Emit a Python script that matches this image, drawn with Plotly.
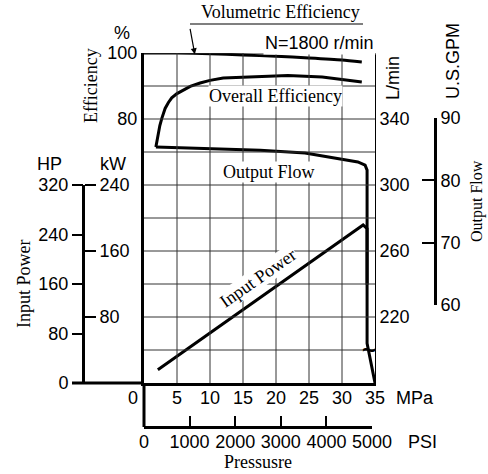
import plotly.graph_objects as go

W, H = 488, 474


def px(x):
    return x / W


def py(y):
    return 1 - y / H


SANS = "Liberation Sans, Arial, sans-serif"
SERIF = "Liberation Serif, Times New Roman, serif"

# ---------------- data ----------------
mpa_ticks = [0, 5, 10, 15, 20, 25, 30, 35]
psi_ticks = [0, 1000, 2000, 3000, 4000, 5000]
eff_grid = [0, 10, 20, 30, 40, 50, 60, 70, 80, 90, 100]
eff_labels = [80, 100]
lpm_ticks = [220, 260, 300, 340]
gpm_ticks = [60, 70, 80, 90]
kw_ticks = [80, 160, 240]
hp_ticks = [0, 80, 160, 240, 320]

vol_pressure = [0, 5, 10, 15, 20, 25, 30, 33]
vol_eff = [100, 100, 99.8, 99.4, 99.0, 98.5, 97.9, 97.3]

overall_pressure = [1.8, 2.1, 2.4, 2.7, 3.2, 3.7, 4.2, 5.0, 5.9, 7.0, 8.5, 10, 12, 16, 21.8, 27, 33]
overall_eff = [71.5, 75.0, 78.0, 80.2, 83.2, 85.0, 86.4, 87.7, 88.8, 89.9, 90.9, 91.7, 92.4, 92.8, 93.2, 92.7, 91.2]

flow_pressure = [1.8, 10, 17.6, 24.4, 32.4, 33.5, 33.8, 33.8, 35.0]
flow_lpm = [323, 322, 321, 319.4, 314, 312, 309, 204, 180]

power_pressure = [2.1, 10, 20, 30, 33.2, 33.8, 33.8]
power_kw = [16, 60.4, 116.8, 173.3, 191.5, 187, 119]

fig = go.Figure()
line = dict(color="black", width=3)
fig.add_trace(go.Scatter(x=vol_pressure, y=vol_eff, mode="lines", line=dict(color="black", width=3, shape="spline", smoothing=0.6), xaxis="x", yaxis="y", hoverinfo="skip"))
fig.add_trace(go.Scatter(x=overall_pressure, y=overall_eff, mode="lines", line=line, xaxis="x", yaxis="y", hoverinfo="skip"))
fig.add_trace(go.Scatter(x=flow_pressure, y=flow_lpm, mode="lines", line=line, xaxis="x", yaxis="y2", hoverinfo="skip"))
fig.add_trace(go.Scatter(x=power_pressure, y=power_kw, mode="lines", line=line, xaxis="x", yaxis="y3", hoverinfo="skip"))
# axis carriers
fig.add_trace(go.Scatter(x=[None], y=[None], xaxis="x", yaxis="y4", hoverinfo="skip"))
fig.add_trace(go.Scatter(x=[None], y=[None], xaxis="x", yaxis="y5", hoverinfo="skip"))
fig.add_trace(go.Scatter(x=[None], y=[None], xaxis="x2", yaxis="y", hoverinfo="skip"))

tickfont = dict(family=SANS, size=18, color="black")
GRID = "#333333"

common = dict(automargin=False, zeroline=False, showgrid=False, fixedrange=True)

fig.update_layout(
    template="none",
    width=W, height=H,
    margin=dict(l=0, r=0, t=0, b=0, pad=0),
    paper_bgcolor="white",
    plot_bgcolor="rgba(0,0,0,0)",
    showlegend=False,
    font=dict(family=SANS, size=18, color="black"),
    xaxis=dict(domain=[px(144), px(375)], range=[0, 35], tickvals=mpa_ticks,
               ticktext=[""] + [str(v) for v in mpa_ticks[1:]],
               showline=True, linecolor="black", linewidth=3, ticks="",
               ticklabelstandoff=-4,
               anchor="y", tickfont=tickfont, **common),
    yaxis=dict(domain=[py(383), py(53)], range=[0, 100], tickvals=eff_grid,
               ticktext=[str(v) if v in eff_labels else "" for v in eff_grid],
               showline=True, linecolor="black", linewidth=3, ticks="",
               anchor="x", tickfont=tickfont, **common),
    yaxis2=dict(overlaying="y", side="right", range=[180, 380], tickvals=lpm_ticks,
                showline=True, linecolor="black", linewidth=1,
                ticks="", anchor="x", tickfont=tickfont, **common),
    yaxis3=dict(domain=[py(383), py(185)], range=[0, 240], anchor="free",
                position=px(83), side="right", tickvals=kw_ticks, ticks="outside",
                ticklen=11, tickwidth=1.5, tickcolor="black", showline=True,
                linecolor="black", linewidth=3, tickfont=tickfont, **common),
    yaxis4=dict(overlaying="y3", anchor="free", position=px(83), side="left",
                range=[0, 320], tickvals=hp_ticks, ticks="outside", ticklen=11,
                tickwidth=1.5, tickcolor="black", showline=False,
                tickfont=tickfont, **common),
    yaxis5=dict(domain=[py(305), py(118)], range=[60, 90], anchor="free",
                position=px(435), side="right", tickvals=gpm_ticks, ticks="inside",
                ticklen=12, tickwidth=1.5, tickcolor="black", showline=True,
                linecolor="black", linewidth=3, tickfont=tickfont, **common),
    xaxis2=dict(domain=[px(144), px(372)], range=[0, 5000], anchor="free",
                position=py(427), side="bottom", tickvals=psi_ticks, ticks="inside",
                ticklen=10, tickwidth=1.5, tickcolor="black", showline=True,
                linecolor="black", linewidth=3, ticklabelstandoff=-3,
                tickfont=tickfont, **common),
)

# grid (from the tick arrays, in data coordinates)
for v in mpa_ticks[1:-1]:
    fig.add_shape(type="line", xref="x", yref="y", x0=v, x1=v, y0=0, y1=100,
                  line=dict(color=GRID, width=1), layer="above")
for v in eff_grid[1:]:
    fig.add_shape(type="line", xref="x", yref="y", x0=0, x1=35, y0=v, y1=v,
                  line=dict(color=GRID, width=1), layer="above")


def ann(text, x, y, font=SANS, size=18, angle=0, **kw):
    fig.add_annotation(text=text, x=px(x), y=py(y), xref="paper", yref="paper",
                       showarrow=False, textangle=angle, xanchor="center",
                       yanchor="middle", font=dict(family=font, size=size, color="black"), **kw)


ann("%", 122, 33)
ann("Efficiency", 91, 86, font=SERIF, angle=-90)
ann("HP", 49, 164)
ann("kW", 113, 164)
ann("Input Power", 24, 284, font=SERIF, angle=-90)
ann("L/min", 393, 78, angle=-90)
ann("U.S.GPM", 453, 61, angle=-90)
ann("Output Flow", 477, 201, font=SERIF, size=16, angle=-90)
ann("MPa", 415, 398)
ann("0", 133, 398)
ann("PSI", 422, 442)
ann("Pressusre", 258, 462, font=SERIF)
ann("Volumetric Efficiency", 280, 12, font=SERIF)
ann("N=1800 r/min", 319, 43, bgcolor="white")

# in-plot labels
fig.add_annotation(text="Overall Efficiency", x=19.85, y=87, xref="x", yref="y", showarrow=False,
                   bgcolor="white", borderpad=0, font=dict(family=SERIF, size=18, color="black"))
fig.add_annotation(text="Output Flow", x=18.9, y=308, xref="x", yref="y2", showarrow=False,
                   bgcolor="white", borderpad=0, font=dict(family=SERIF, size=18, color="black"))
fig.add_annotation(text="Input Power", x=17.3, y=127, xref="x", yref="y3", showarrow=False,
                   bgcolor="white", borderpad=0, textangle=-35,
                   font=dict(family=SERIF, size=18, color="black"))
fig.add_annotation(text="<b>~</b>", x=34.1, y=200.5, xref="x", yref="y2", showarrow=False,
                   borderpad=0, font=dict(family=SANS, size=24, color="black"))
# leader arrow for volumetric efficiency
fig.add_annotation(text="", x=7.7, y=99.6, xref="x", yref="y", showarrow=True,
                   ax=-5, ay=-27, arrowhead=2, arrowsize=1, arrowwidth=1.2, arrowcolor="black")

# decorative connector lines
fig.add_shape(type="line", xref="paper", yref="paper", x0=px(190), x1=px(363), y0=py(24), y1=py(24),
              line=dict(color="black", width=1.2))
fig.add_shape(type="line", xref="paper", yref="paper", x0=px(144), x1=px(144), y0=py(383), y1=py(427),
              line=dict(color="black", width=3))
fig.add_shape(type="line", xref="paper", yref="paper", x0=px(72), x1=px(144), y0=py(383), y1=py(383),
              line=dict(color="black", width=3))

fig.write_html("out.html", config={"displayModeBar": False},
               post_script="document.body.style.margin='0';document.body.style.overflow='hidden';")
